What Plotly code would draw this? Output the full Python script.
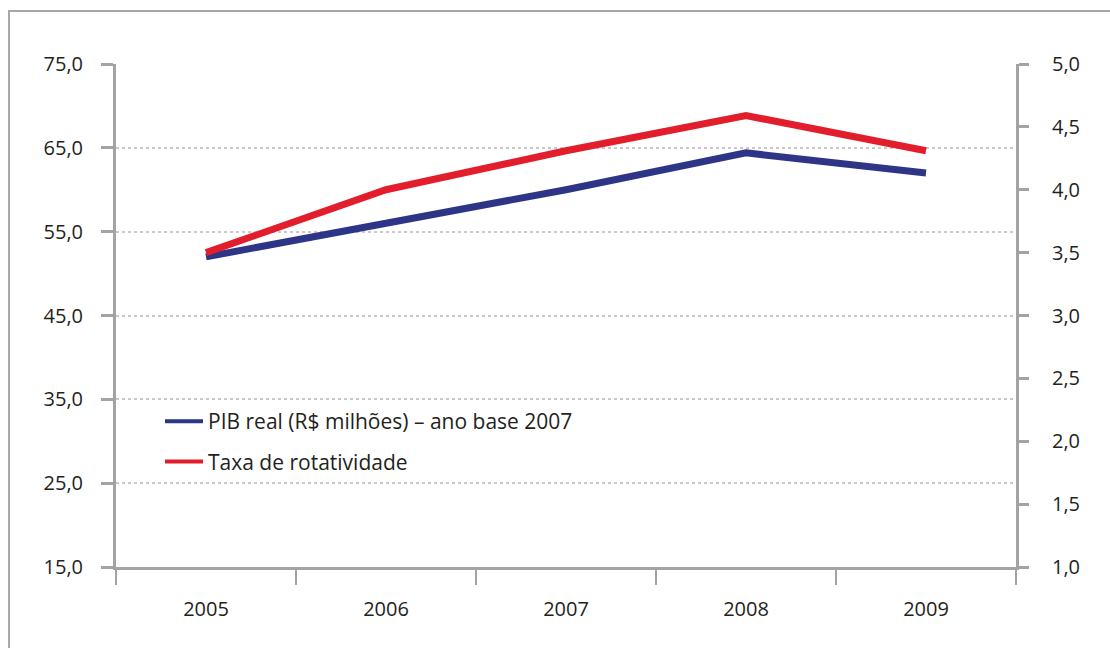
import plotly.graph_objects as go

years = ["2005", "2006", "2007", "2008", "2009"]
pib_real = [52.0, 56.0, 60.0, 64.4, 62.0]
taxa_rotatividade = [3.50, 4.00, 4.31, 4.59, 4.31]

name_pib = "PIB real (R$ milhões) – ano base 2007"
name_taxa = "Taxa de rotatividade"

BLUE = "#2e3586"
RED = "#e21e2d"
AXIS = "#a3a3a5"
TEXT = "#231f20"
FONT = "Open Sans"
FS = 20

fig = go.Figure()
fig.add_trace(go.Scatter(
    x=years, y=pib_real, name=name_pib, mode="lines",
    line=dict(color=BLUE, width=7), showlegend=False, yaxis="y",
))
fig.add_trace(go.Scatter(
    x=years, y=taxa_rotatividade, name=name_taxa, mode="lines",
    line=dict(color=RED, width=7), showlegend=False, yaxis="y2",
))
# legend entries (thinner line samples, as in the reference legend)
fig.add_trace(go.Scatter(
    x=[None], y=[None], name=name_pib, mode="lines",
    line=dict(color=BLUE, width=4), legendgroup="a", yaxis="y",
))
fig.add_trace(go.Scatter(
    x=[None], y=[None], name=name_taxa, mode="lines",
    line=dict(color=RED, width=4), legendgroup="b", yaxis="y2",
))

fig.update_layout(
    width=1110, height=648,
    margin=dict(l=116, r=94, t=64, b=81),
    paper_bgcolor="white", plot_bgcolor="white",
    separators=",.",
    font=dict(family=FONT, size=FS, color=TEXT),
    showlegend=True,
    legend=dict(
        x=(160 - 116) / 900, y=0.33, xanchor="left", yanchor="top",
        bgcolor="rgba(0,0,0,0)", traceorder="grouped", itemwidth=38,
        tracegroupgap=10, font=dict(family=FONT, size=21, color=TEXT),
    ),
    xaxis=dict(
        type="category", range=[-0.5, 4.5],
        tickson="boundaries", ticks="outside", ticklen=15, tickwidth=2,
        tickcolor=AXIS, showline=True, linecolor=AXIS, linewidth=3,
        showgrid=False, ticklabelstandoff=22,
    ),
    yaxis=dict(
        range=[15, 75], tick0=15, dtick=10, tickformat=".1f",
        ticks="outside", ticklen=12, tickwidth=3, tickcolor=AXIS,
        showline=True, linecolor=AXIS, linewidth=3,
        showgrid=True, gridcolor="#c9c9c9", gridwidth=2, griddash="dot",
        zeroline=False, ticklabelstandoff=14,
    ),
    yaxis2=dict(
        range=[1, 5], tick0=1, dtick=0.5, tickformat=".1f",
        overlaying="y", side="right",
        ticks="outside", ticklen=10, tickwidth=3, tickcolor=AXIS,
        showline=True, linecolor=AXIS, linewidth=3,
        showgrid=False, zeroline=False, ticklabelstandoff=19,
    ),
    shapes=[dict(
        type="rect", xref="paper", yref="paper",
        x0=(9 - 116) / 900, x1=(1130 - 116) / 900,
        y0=(567 - 670) / 503, y1=(567 - 11) / 503,
        line=dict(color="#a8a8a8", width=2), fillcolor="rgba(0,0,0,0)",
        layer="below",
    )],
)

fig.write_html("out.html")
